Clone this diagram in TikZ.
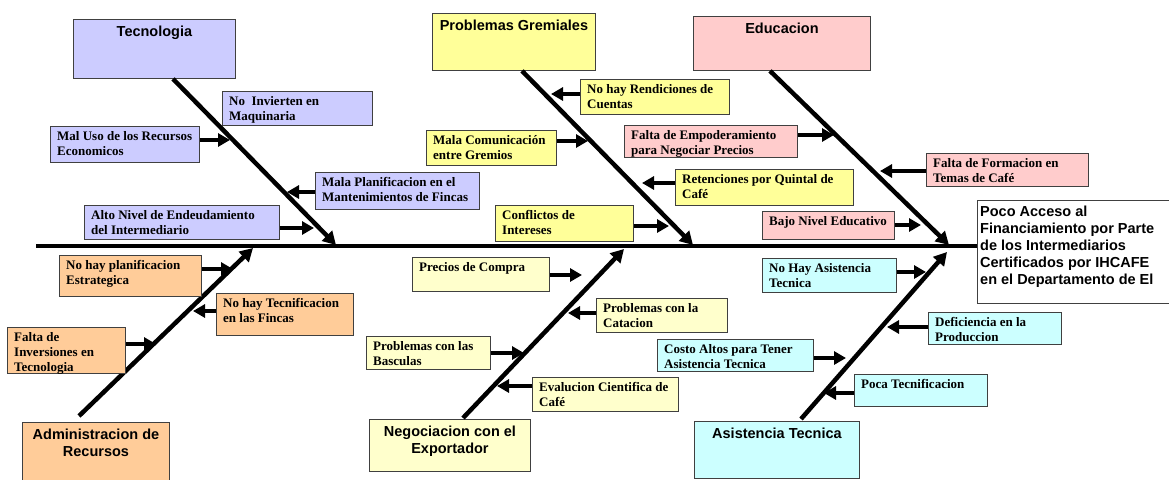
\documentclass[tikz,border=0pt]{standalone}
\usepackage{fontspec}
\setmainfont{Liberation Serif}
\setsansfont{Liberation Sans}
\usetikzlibrary{arrows.meta}
\definecolor{cTec}{HTML}{CCCCFF}
\definecolor{cGre}{HTML}{FFFF99}
\definecolor{cEdu}{HTML}{FFCCCC}
\definecolor{cAdm}{HTML}{FFCC99}
\definecolor{cNeg}{HTML}{FFFFCC}
\definecolor{cAsi}{HTML}{CCFFFF}
\tikzset{
  box/.style={draw=black!75, line width=0.9pt, rectangle, inner sep=0pt},
  lbl/.style={font=\fontsize{13}{15}\selectfont\rmfamily\bfseries, align=left, inner sep=0pt},
  ttl/.style={font=\fontsize{14.5}{17}\selectfont\sffamily\bfseries, align=center, inner sep=0pt},
  bone/.style={line width=4.5pt, -{Triangle[length=13pt,width=14pt]}},
  sarr/.style={line width=4pt, -{Triangle[length=12pt,width=13pt]}},
}
\newcommand{\lbx}[7]{%
  \node[box, fill=#6, anchor=north west, minimum width=#4pt-#2pt, minimum height=#5pt-#3pt] (#1) at (#2,#3) {};
  \node[lbl, anchor=north west] (#1t) at ([shift={(7pt,-5pt)}]#1.north west) {#7};
}
\newcommand{\cbx}[7]{%
  \node[box, fill=#6, anchor=north west, minimum width=#4pt-#2pt, minimum height=#5pt-#3pt] (#1) at (#2,#3) {};
  \node[ttl, anchor=north] (#1t) at ([yshift=-7pt]#1.north) {#7};
}
\begin{document}
\begin{tikzpicture}[x=1pt,y=-1pt]
\useasboundingbox (0,0) rectangle (1169,479);
\fill[white] (0,0) rectangle (1169,479);

% effect box and spine
\node[box, fill=white, anchor=north west, minimum width=195pt, minimum height=103pt] (eff) at (977,200) {};
\node[ttl, align=left, anchor=north west] (efft) at ([shift={(3pt,-6pt)}]eff.north west)
  {Poco Acceso al\\Financiamiento por Parte\\de los Intermediarios\\Certificados por IHCAFE\\en el Departamento de El};
\coordinate (tail) at (36,246);
\draw[line width=4.5pt] (tail) -- (eff.west |- 0,246);

% category boxes
\cbx{tec}{73}{19}{235}{78}{cTec}{Tecnologia}
\cbx{gre}{432}{13}{595}{70}{cGre}{Problemas Gremiales}
\cbx{edu}{693}{16}{870}{70}{cEdu}{Educacion}
\cbx{adm}{22}{422}{169}{482}{cAdm}{Administracion de\\Recursos}
\cbx{neg}{369}{419}{530}{471}{cNeg}{Negociacion con el\\Exportador}
\cbx{asi}{694}{421}{859}{478}{cAsi}{Asistencia Tecnica}

% bones
\coordinate (tecTip) at (336,245);
\coordinate (greTip) at (693,245);
\coordinate (eduTip) at (949,245);
\coordinate (admTip) at (253,248);
\coordinate (negTip) at (624,249);
\coordinate (asiTip) at (947,252);
\draw[bone] (tec.south -| 173,0) -- (tecTip);
\draw[bone] (gre.south -| 522,0) -- (greTip);
\draw[bone] (edu.south -| 770,0) -- (eduTip);
\draw[bone] (79,416) -- (admTip);
\draw[bone] (463,418) -- (negTip);
\draw[bone] (801,419) -- (asiTip);

% Tecnologia
\lbx{invi}{222}{91}{372}{125}{cTec}{No\ \ Invierten en\\Maquinaria}
\lbx{maluso}{50}{126}{199}{162}{cTec}{Mal Uso de los Recursos\\Economicos}
\lbx{malapl}{315}{172}{479}{209}{cTec}{Mala Planificacion en el\\Mantenimientos de Fincas}
\lbx{alto}{84}{205}{279}{239}{cTec}{Alto Nivel de Endeudamiento\\del Intermediario}
\draw[sarr] (maluso.east |- 0,140) -- (230,140);
\draw[sarr] (malapl.west |- 0,192) -- (287,192);
\draw[sarr] (alto.east |- 0,228) -- (314,228);

% Problemas Gremiales
\lbx{rend}{580}{79}{729}{114}{cGre}{No hay Rendiciones de\\Cuentas}
\lbx{malacom}{426}{130}{556}{165}{cGre}{Mala Comunicación\\entre Gremios}
\lbx{reten}{675}{169}{853}{205}{cGre}{Retenciones por Quintal de\\Café}
\lbx{conf}{495}{205}{633}{241}{cGre}{Conflictos de\\Intereses}
\draw[sarr] (rend.west |- 0,94) -- (551,94);
\draw[sarr] (malacom.east |- 0,141) -- (588,141);
\draw[sarr] (reten.west |- 0,183) -- (642,183);
\draw[sarr] (conf.east |- 0,226) -- (669,226);

% Educacion
\lbx{empod}{624}{125}{797}{157}{cEdu}{Falta de Empoderamiento\\para Negociar Precios}
\lbx{formac}{926}{153}{1088}{186}{cEdu}{Falta de Formacion en\\Temas de Café}
\lbx{bajo}{762}{211}{894}{239}{cEdu}{Bajo Nivel Educativo}
\draw[sarr] (empod.east |- 0,135) -- (834,135);
\draw[sarr] (formac.west |- 0,171) -- (880,171);
\draw[sarr] (bajo.east |- 0,225) -- (921,225);

% Administracion de Recursos
\lbx{planif}{59}{255}{201}{296}{cAdm}{No hay planificacion\\Estrategica}
\lbx{tecnif}{216}{293}{353}{335}{cAdm}{No hay Tecnificacion\\en las Fincas}
\lbx{inver}{7}{327}{125}{373}{cAdm}{Falta de\\Inversiones en\\Tecnologia}
\draw[sarr] (planif.east |- 0,269) -- (233,269);
\draw[sarr] (tecnif.west |- 0,311) -- (193,311);
\draw[sarr] (inver.east |- 0,344) -- (156,344);

% Negociacion con el Exportador
\lbx{precios}{412}{257}{549}{291}{cNeg}{Precios de Compra}
\lbx{catac}{596}{298}{727}{332}{cNeg}{Problemas con la\\Catacion}
\lbx{bascu}{366}{336}{490}{369}{cNeg}{Problemas con las\\Basculas}
\lbx{evalu}{532}{377}{678}{411}{cNeg}{Evalucion Cientifica de\\Café}
\draw[sarr] (precios.east |- 0,275) -- (582,275);
\draw[sarr] (catac.west |- 0,313) -- (568,313);
\draw[sarr] (bascu.east |- 0,353) -- (524,353);
\draw[sarr] (evalu.west |- 0,386) -- (497,386);

% Asistencia Tecnica
\lbx{nohay}{762}{258}{896}{292}{cAsi}{No Hay Asistencia\\Tecnica}
\lbx{defic}{928}{312}{1061}{344}{cAsi}{Deficiencia en la\\Produccion}
\lbx{costo}{657}{339}{813}{371}{cAsi}{Costo Altos para Tener\\Asistencia Tecnica}
\lbx{poca}{854}{374}{987}{406}{cAsi}{Poca Tecnificacion}
\draw[sarr] (nohay.east |- 0,272) -- (926,272);
\draw[sarr] (defic.west |- 0,327) -- (887,327);
\draw[sarr] (costo.east |- 0,358) -- (846,358);
\draw[sarr] (poca.west |- 0,393) -- (824,393);
\end{tikzpicture}
\end{document}
